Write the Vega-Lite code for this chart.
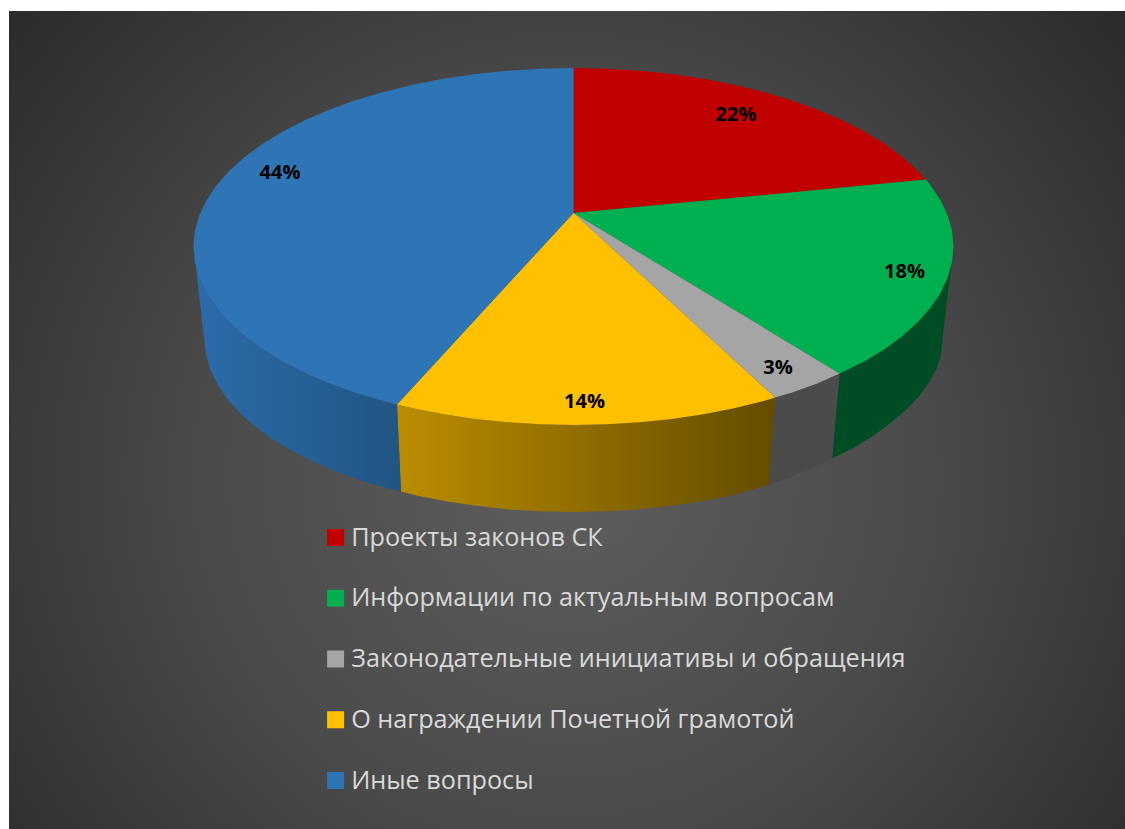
{"$schema":"https://vega.github.io/schema/vega-lite/v6.json","width":1125,"height":829,"padding":0,"autosize":{"type":"none"},"background":"#ffffff","view":{"stroke":null},
"encoding":{"x":{"field":"x","type":"quantitative","scale":{"domain":[0,1125],"range":[0,1125],"nice":false,"zero":false},"axis":null},"y":{"field":"y","type":"quantitative","scale":{"domain":[0,829],"range":[0,829],"nice":false,"zero":false},"axis":null}},
"datasets":{
"shares":[{"k":"red","name":"Проекты законов СК","share":"22%","x":736,"y":115},{"k":"green","name":"Информации по актуальным вопросам","share":"18%","x":904.5,"y":272},{"k":"grey","name":"Законодательные инициативы и обращения","share":"3%","x":778,"y":368},{"k":"yellow","name":"О награждении Почетной грамотой","share":"14%","x":584.5,"y":402},{"k":"blue","name":"Иные вопросы","share":"44%","x":280,"y":173}],
"top":[
{"k":"red","o":0,"x":573.5,"y":213},{"k":"red","o":1,"x":573.5,"y":68},{"k":"red","o":2,"x":606.6,"y":68.7},{"k":"red","o":3,"x":639.5,"y":70.7},{"k":"red","o":4,"x":671.8,"y":74.1},{"k":"red","o":5,"x":703.5,"y":78.8},{"k":"red","o":6,"x":734.1,"y":84.7},{"k":"red","o":7,"x":763.5,"y":91.9},{"k":"red","o":8,"x":791.5,"y":100.3},{"k":"red","o":9,"x":817.8,"y":109.8},{"k":"red","o":10,"x":842.2,"y":120.3},{"k":"red","o":11,"x":864.6,"y":131.8},{"k":"red","o":12,"x":884.8,"y":144.1},{"k":"red","o":13,"x":902.6,"y":157.2},{"k":"red","o":14,"x":917.9,"y":171.1},{"k":"red","o":15,"x":925.8,"y":179.6},
{"k":"green","o":0,"x":573.5,"y":213},{"k":"green","o":1,"x":925.8,"y":179.6},{"k":"green","o":2,"x":930.6,"y":185.5},{"k":"green","o":3,"x":940.5,"y":200.3},{"k":"green","o":4,"x":947.7,"y":215.5},{"k":"green","o":5,"x":952.1,"y":230.9},{"k":"green","o":6,"x":953.5,"y":246.5},{"k":"green","o":7,"x":952.1,"y":262.1},{"k":"green","o":8,"x":947.7,"y":277.5},{"k":"green","o":9,"x":940.5,"y":292.7},{"k":"green","o":10,"x":930.6,"y":307.5},{"k":"green","o":11,"x":917.9,"y":321.9},{"k":"green","o":12,"x":902.6,"y":335.8},{"k":"green","o":13,"x":884.8,"y":348.9},{"k":"green","o":14,"x":864.6,"y":361.2},{"k":"green","o":15,"x":839.5,"y":373.4},
{"k":"grey","o":0,"x":573.5,"y":213},{"k":"grey","o":1,"x":839.5,"y":373.4},{"k":"grey","o":2,"x":817.8,"y":383.2},{"k":"grey","o":3,"x":791.5,"y":392.7},{"k":"grey","o":4,"x":775,"y":397.5},
{"k":"yellow","o":0,"x":573.5,"y":213},{"k":"yellow","o":1,"x":775,"y":397.5},{"k":"yellow","o":2,"x":763.5,"y":401.1},{"k":"yellow","o":3,"x":734.1,"y":408.3},{"k":"yellow","o":4,"x":703.5,"y":414.2},{"k":"yellow","o":5,"x":671.8,"y":418.9},{"k":"yellow","o":6,"x":639.5,"y":422.3},{"k":"yellow","o":7,"x":606.6,"y":424.3},{"k":"yellow","o":8,"x":573.5,"y":425},{"k":"yellow","o":9,"x":540.4,"y":424.3},{"k":"yellow","o":10,"x":507.5,"y":422.3},{"k":"yellow","o":11,"x":475.2,"y":418.9},{"k":"yellow","o":12,"x":443.5,"y":414.2},{"k":"yellow","o":13,"x":412.9,"y":408.3},{"k":"yellow","o":14,"x":397,"y":404.4},
{"k":"blue","o":0,"x":573.5,"y":213},{"k":"blue","o":1,"x":397,"y":404.4},{"k":"blue","o":2,"x":383.5,"y":401.1},{"k":"blue","o":3,"x":355.5,"y":392.7},{"k":"blue","o":4,"x":329.2,"y":383.2},{"k":"blue","o":5,"x":304.8,"y":372.7},{"k":"blue","o":6,"x":282.4,"y":361.2},{"k":"blue","o":7,"x":262.2,"y":348.9},{"k":"blue","o":8,"x":244.4,"y":335.8},{"k":"blue","o":9,"x":229.1,"y":321.9},{"k":"blue","o":10,"x":216.4,"y":307.5},{"k":"blue","o":11,"x":206.5,"y":292.7},{"k":"blue","o":12,"x":199.3,"y":277.5},{"k":"blue","o":13,"x":194.9,"y":262.1},{"k":"blue","o":14,"x":193.5,"y":246.5},{"k":"blue","o":15,"x":194.9,"y":230.9},{"k":"blue","o":16,"x":199.3,"y":215.5},{"k":"blue","o":17,"x":206.5,"y":200.3},{"k":"blue","o":18,"x":216.4,"y":185.5},{"k":"blue","o":19,"x":229.1,"y":171.1},{"k":"blue","o":20,"x":244.4,"y":157.2},{"k":"blue","o":21,"x":262.2,"y":144.1},{"k":"blue","o":22,"x":282.4,"y":131.8},{"k":"blue","o":23,"x":304.8,"y":120.3},{"k":"blue","o":24,"x":329.2,"y":109.8},{"k":"blue","o":25,"x":355.5,"y":100.3},{"k":"blue","o":26,"x":383.5,"y":91.9},{"k":"blue","o":27,"x":412.9,"y":84.7},{"k":"blue","o":28,"x":443.5,"y":78.8},{"k":"blue","o":29,"x":475.2,"y":74.1},{"k":"blue","o":30,"x":507.5,"y":70.7},{"k":"blue","o":31,"x":540.4,"y":68.7},{"k":"blue","o":32,"x":573.5,"y":68}
],
"wall":[
{"k":"green","o":0,"x":953.5,"y":246.5},{"k":"green","o":1,"x":952.1,"y":262.1},{"k":"green","o":2,"x":947.7,"y":277.5},{"k":"green","o":3,"x":940.5,"y":292.7},{"k":"green","o":4,"x":930.6,"y":307.5},{"k":"green","o":5,"x":917.9,"y":321.9},{"k":"green","o":6,"x":902.6,"y":335.8},{"k":"green","o":7,"x":884.8,"y":348.9},{"k":"green","o":8,"x":864.6,"y":361.2},{"k":"green","o":9,"x":839.5,"y":373.4},{"k":"green","o":10,"x":832,"y":458.5},{"k":"green","o":11,"x":853.7,"y":447.7},{"k":"green","o":12,"x":873.3,"y":435.7},{"k":"green","o":13,"x":890.6,"y":423},{"k":"green","o":14,"x":905.9,"y":410.1},{"k":"green","o":15,"x":918.7,"y":396.7},{"k":"green","o":16,"x":928.9,"y":382.8},{"k":"green","o":17,"x":936.9,"y":368.5},{"k":"green","o":18,"x":941.1,"y":354.1},{"k":"green","o":19,"x":942.5,"y":339},
{"k":"grey","o":0,"x":839.5,"y":373.4},{"k":"grey","o":1,"x":817.8,"y":383.2},{"k":"grey","o":2,"x":791.5,"y":392.7},{"k":"grey","o":3,"x":775,"y":397.5},{"k":"grey","o":4,"x":769,"y":484.5},{"k":"grey","o":5,"x":785.2,"y":479.2},{"k":"grey","o":6,"x":810.7,"y":469},{"k":"grey","o":7,"x":832,"y":458.5},
{"k":"yellow","o":0,"x":775,"y":397.5},{"k":"yellow","o":1,"x":763.5,"y":401.1},{"k":"yellow","o":2,"x":734.1,"y":408.3},{"k":"yellow","o":3,"x":703.5,"y":414.2},{"k":"yellow","o":4,"x":671.8,"y":418.9},{"k":"yellow","o":5,"x":639.5,"y":422.3},{"k":"yellow","o":6,"x":606.6,"y":424.3},{"k":"yellow","o":7,"x":573.5,"y":425},{"k":"yellow","o":8,"x":540.4,"y":424.3},{"k":"yellow","o":9,"x":507.5,"y":422.3},{"k":"yellow","o":10,"x":475.2,"y":418.9},{"k":"yellow","o":11,"x":443.5,"y":414.2},{"k":"yellow","o":12,"x":412.9,"y":408.3},{"k":"yellow","o":13,"x":397,"y":404.4},{"k":"yellow","o":14,"x":401,"y":491.5},{"k":"yellow","o":15,"x":417.6,"y":495.8},{"k":"yellow","o":16,"x":447.3,"y":501.6},{"k":"yellow","o":17,"x":478,"y":506.1},{"k":"yellow","o":18,"x":509.4,"y":509.4},{"k":"yellow","o":19,"x":541.3,"y":511.3},{"k":"yellow","o":20,"x":573.5,"y":512},{"k":"yellow","o":21,"x":605.7,"y":511.3},{"k":"yellow","o":22,"x":637.6,"y":509.4},{"k":"yellow","o":23,"x":669,"y":506.1},{"k":"yellow","o":24,"x":699.7,"y":501.6},{"k":"yellow","o":25,"x":729.4,"y":495.8},{"k":"yellow","o":26,"x":758,"y":488},{"k":"yellow","o":27,"x":769,"y":484.5},
{"k":"blue","o":0,"x":397,"y":404.4},{"k":"blue","o":1,"x":383.5,"y":401.1},{"k":"blue","o":2,"x":355.5,"y":392.7},{"k":"blue","o":3,"x":329.2,"y":383.2},{"k":"blue","o":4,"x":304.8,"y":372.7},{"k":"blue","o":5,"x":282.4,"y":361.2},{"k":"blue","o":6,"x":262.2,"y":348.9},{"k":"blue","o":7,"x":244.4,"y":335.8},{"k":"blue","o":8,"x":229.1,"y":321.9},{"k":"blue","o":9,"x":216.4,"y":307.5},{"k":"blue","o":10,"x":206.5,"y":292.7},{"k":"blue","o":11,"x":199.3,"y":277.5},{"k":"blue","o":12,"x":194.9,"y":262.1},{"k":"blue","o":13,"x":193.5,"y":246.5},{"k":"blue","o":14,"x":204.5,"y":341},{"k":"blue","o":15,"x":205.9,"y":354.1},{"k":"blue","o":16,"x":210.1,"y":369},{"k":"blue","o":17,"x":217.1,"y":383.8},{"k":"blue","o":18,"x":226.8,"y":398.2},{"k":"blue","o":19,"x":239.1,"y":412.1},{"k":"blue","o":20,"x":253.9,"y":425.5},{"k":"blue","o":21,"x":271.2,"y":438.2},{"k":"blue","o":22,"x":290.8,"y":450.2},{"k":"blue","o":23,"x":312.6,"y":461.3},{"k":"blue","o":24,"x":336.3,"y":471.5},{"k":"blue","o":25,"x":361.8,"y":480.7},{"k":"blue","o":26,"x":389,"y":488.8},{"k":"blue","o":27,"x":401,"y":491.5}
]},
"layer":[
{"data":{"values":[{"x":9,"x2":1125,"y":11,"y2":829}]},"mark":{"type":"rect","fill":{"gradient":"radial","x1":0.5,"y1":0.55,"r1":0,"x2":0.5,"y2":0.55,"r2":0.66,"stops":[{"offset":0,"color":"#5e5e5e"},{"offset":0.5,"color":"#4a4a4a"},{"offset":1,"color":"#2a2a2a"}]}},"encoding":{"x2":{"field":"x2"},"y2":{"field":"y2"}}},
{"data":{"name":"wall"},"transform":[{"filter":"datum.k==='green'"}],"mark":{"type":"line","fill":"#004d25","stroke":null,"strokeWidth":0},"encoding":{"order":{"field":"o"}}},
{"data":{"name":"wall"},"transform":[{"filter":"datum.k==='grey'"}],"mark":{"type":"line","fill":"#4b4b4b","stroke":null,"strokeWidth":0},"encoding":{"order":{"field":"o"}}},
{"data":{"name":"wall"},"transform":[{"filter":"datum.k==='yellow'"}],"mark":{"type":"line","stroke":null,"strokeWidth":0,"fill":{"gradient":"linear","x1":0,"y1":0,"x2":1,"y2":0,"stops":[{"offset":0,"color":"#bb8d00"},{"offset":1,"color":"#644c00"}]}},"encoding":{"order":{"field":"o"}}},
{"data":{"name":"wall"},"transform":[{"filter":"datum.k==='blue'"}],"mark":{"type":"line","stroke":null,"strokeWidth":0,"fill":{"gradient":"linear","x1":0,"y1":0,"x2":1,"y2":0,"stops":[{"offset":0,"color":"#2b6cab"},{"offset":1,"color":"#215583"}]}},"encoding":{"order":{"field":"o"}}},
{"data":{"name":"top"},"transform":[{"lookup":"k","from":{"data":{"name":"shares"},"key":"k","fields":["name"]}}],"mark":{"type":"line","strokeWidth":0,"stroke":null},"encoding":{"order":{"field":"o"},"fill":{"field":"name","type":"nominal","scale":{"domain":["Проекты законов СК","Информации по актуальным вопросам","Законодательные инициативы и обращения","О награждении Почетной грамотой","Иные вопросы"],"range":["#c00000","#00b050","#a5a5a5","#ffc000","#2e75b6"]},"legend":{"title":null,"orient":"none","legendX":323,"legendY":521,"symbolType":"square","symbolSize":289,"symbolStrokeWidth":0,"labelFont":"Open Sans","labelFontSize":25.2,"labelColor":"#d9d9d9","labelLimit":700,"labelOffset":3,"rowPadding":27.75,"clipHeight":33}}}},
{"data":{"name":"shares"},"mark":{"type":"text","font":"Open Sans","fontWeight":"bold","fontSize":20,"color":"#000000","align":"center","baseline":"middle"},"encoding":{"text":{"field":"share"}}}
]}
